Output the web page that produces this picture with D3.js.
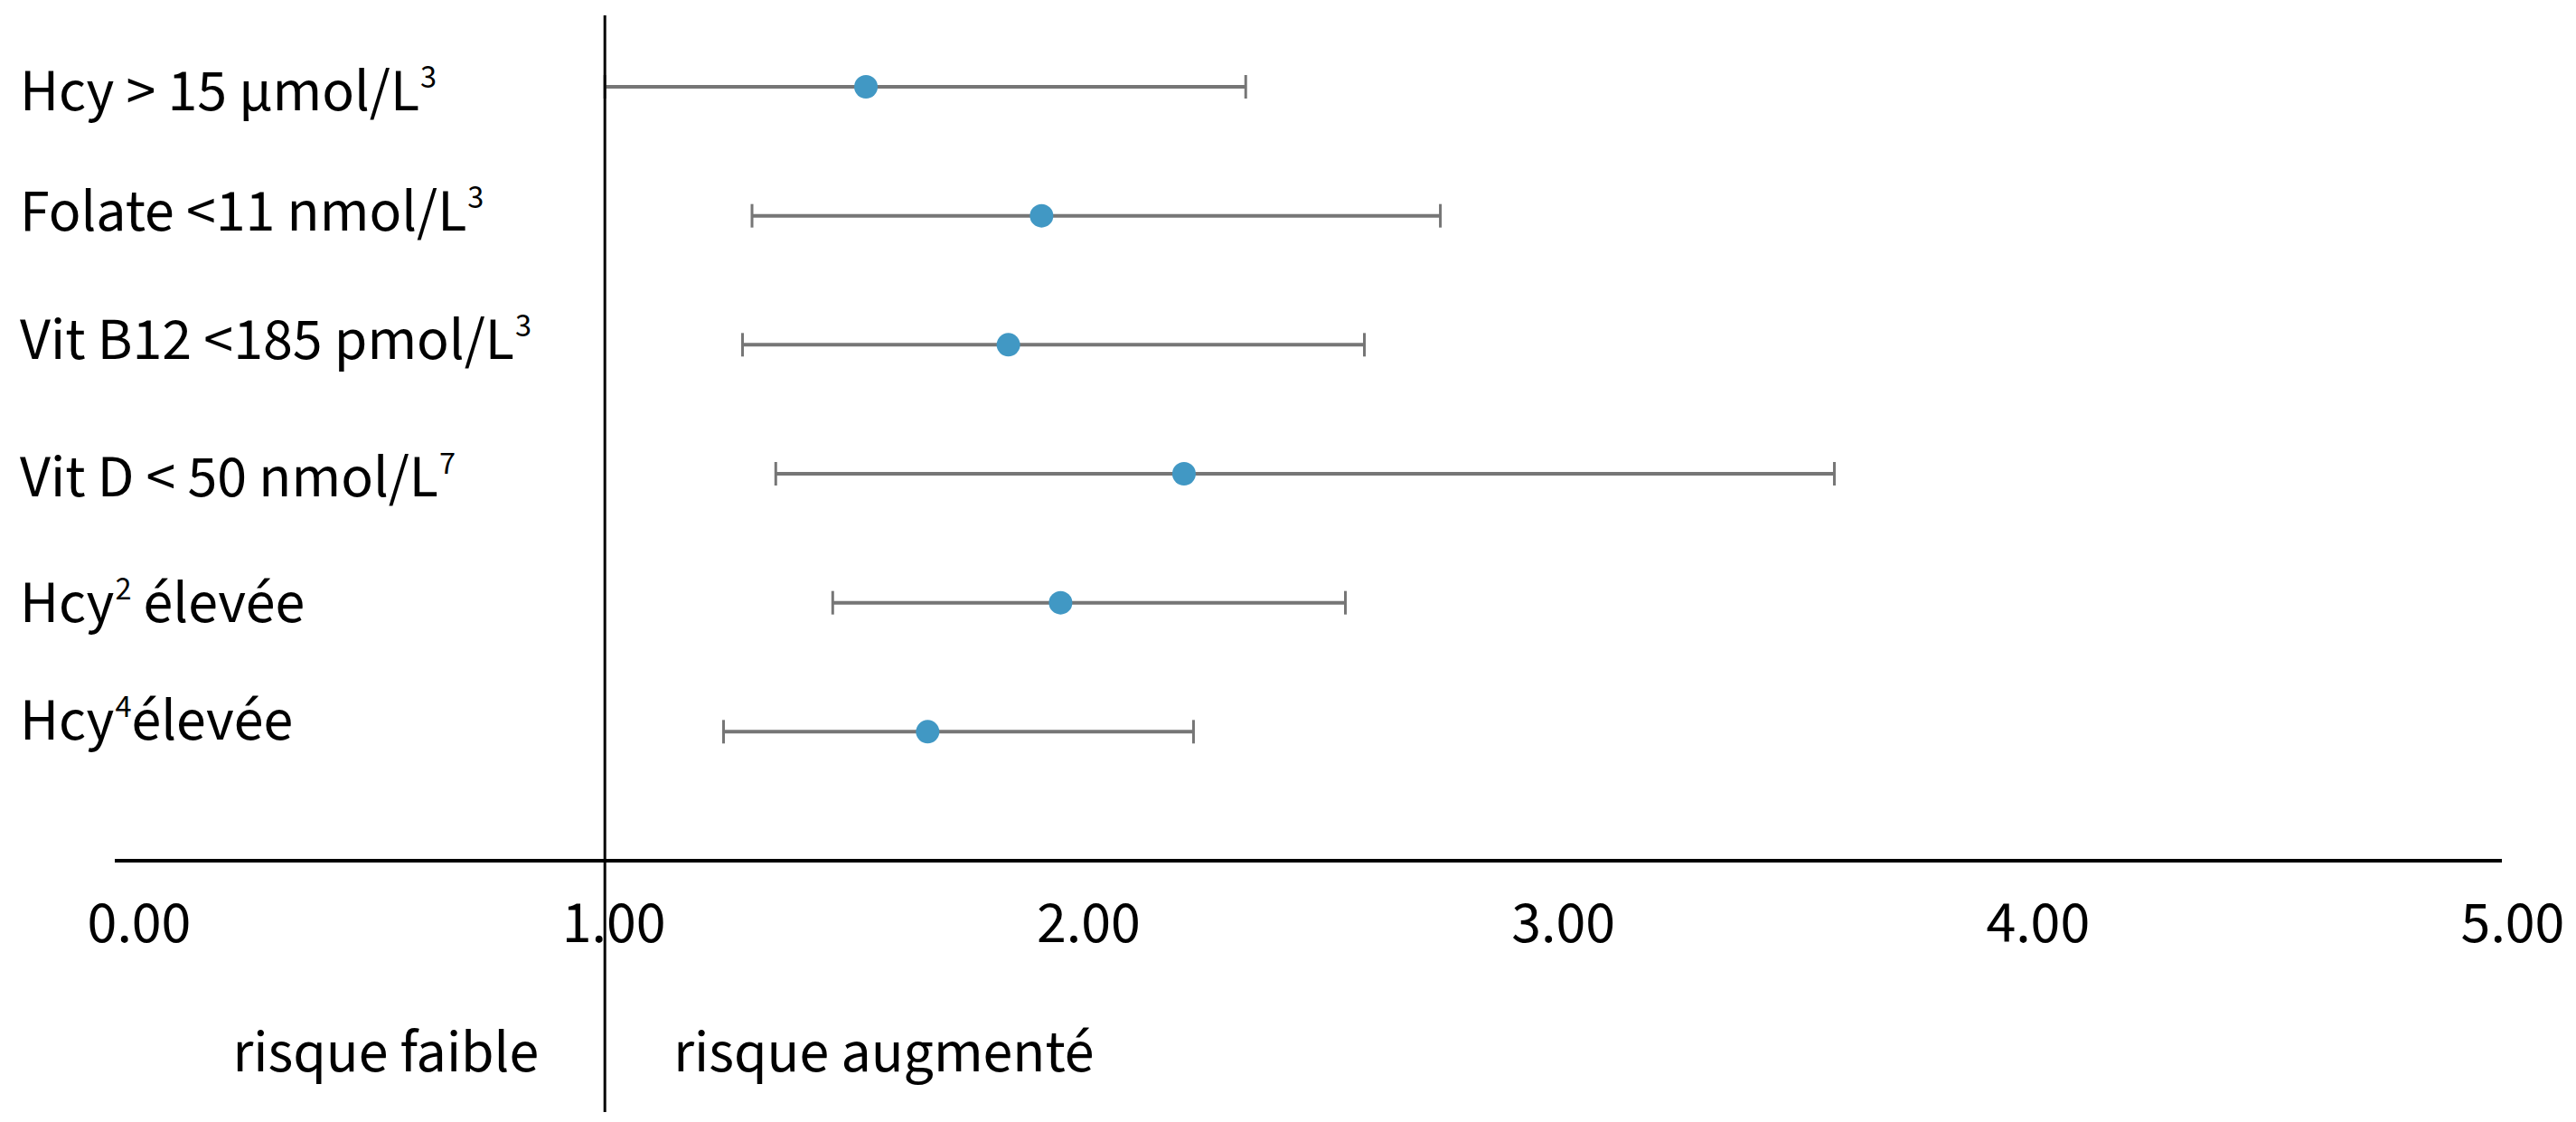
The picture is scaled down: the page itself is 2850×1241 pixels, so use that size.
<!DOCTYPE html>
<html>
<head>
<meta charset="utf-8">
<script src="https://cdn.jsdelivr.net/npm/d3@7"></script>
<style>
  html, body { margin: 0; padding: 0; background: #fff; }
  svg text { font-family: "Source Sans Pro", "Source Sans 3", Lato, sans-serif; fill: #000; }
</style>
</head>
<body>
<svg id="chart"></svg>
<script>
// Forest plot: odds ratios with confidence intervals
const labels = ["Hcy > 15 µmol/L", "Folate <11 nmol/L", "Vit B12 <185 pmol/L", "Vit D < 50 nmol/L", "Hcy", "Hcy"];
const supers = ["3", "3", "3", "7", "2", "4"];
const suffixes = ["", "", "", "", " élevée", "élevée"];
const oddsRatio = [1.55, 1.92, 1.85, 2.22, 1.96, 1.68];
const ciLow = [1.00, 1.31, 1.29, 1.36, 1.48, 1.25];
const ciHigh = [2.35, 2.76, 2.60, 3.59, 2.56, 2.24];
const xTicks = [0, 1, 2, 3, 4, 5];
const refValue = 1;
const sideLabels = ["risque faible", "risque augmenté"];

const width = 2850, height = 1241;
const fontSize = 66;
// the row labels are not exactly aligned with their whiskers in the original
const labelShift = [26, 16, 16, 25, 21, 9];

const svg = d3.select("#chart")
    .attr("width", width)
    .attr("height", height);

const x = d3.scaleLinear().domain([0, 5]).range([144, 2770]);
// rows 0..5, axis sits one step below the last row
const y = d3.scaleLinear().domain([0, 6]).range([96, 952]);

// horizontal axis line
svg.append("line")
    .attr("x1", x.range()[0] - 17)
    .attr("x2", x(5) - 2)
    .attr("y1", y(6))
    .attr("y2", y(6))
    .attr("stroke", "#000")
    .attr("stroke-width", 4);

// tick labels
svg.append("g").selectAll("text")
    .data(xTicks)
    .join("text")
    .attr("x", d => x(d) + 10)
    .attr("y", y(6) + 90)
    .attr("text-anchor", "middle")
    .attr("font-size", fontSize)
    .text(d => d3.format(".2f")(d));

// side labels
svg.append("text")
    .attr("x", x(refValue) - 73)
    .attr("y", 1185)
    .attr("text-anchor", "end")
    .attr("font-size", fontSize)
    .text(sideLabels[0]);

svg.append("text")
    .attr("x", x(refValue) + 76)
    .attr("y", 1185)
    .attr("text-anchor", "start")
    .attr("font-size", fontSize)
    .text(sideLabels[1]);

const rows = labels.map((d, i) => ({
    label: d, sup: supers[i], suffix: suffixes[i],
    or: oddsRatio[i], lo: ciLow[i], hi: ciHigh[i], i
}));

// category labels
const lab = svg.append("g").selectAll("text")
    .data(rows)
    .join("text")
    .attr("x", 22)
    .attr("y", d => y(d.i) + labelShift[d.i])
    .attr("font-size", fontSize);

lab.append("tspan").text(d => d.label);
lab.append("tspan")
    .attr("font-size", fontSize * 0.55)
    .attr("dy", -fontSize * 0.38)
    .attr("dx", 1)
    .text(d => d.sup);
lab.filter(d => d.suffix !== "").append("tspan")
    .attr("dy", fontSize * 0.38)
    .text(d => d.suffix);

// error bars
const bars = svg.append("g");
const capH = 13;

bars.selectAll(".whisker")
    .data(rows)
    .join("line")
    .attr("class", "whisker")
    .attr("x1", d => x(d.lo))
    .attr("x2", d => x(d.hi))
    .attr("y1", d => y(d.i))
    .attr("y2", d => y(d.i))
    .attr("stroke", "#767676")
    .attr("stroke-width", 4);

bars.selectAll(".cap")
    .data(rows.flatMap(d => [{ v: d.lo, i: d.i }, { v: d.hi, i: d.i }]))
    .join("line")
    .attr("class", "cap")
    .attr("x1", d => x(d.v))
    .attr("x2", d => x(d.v))
    .attr("y1", d => y(d.i) - capH)
    .attr("y2", d => y(d.i) + capH)
    .attr("stroke", "#767676")
    .attr("stroke-width", 3);

bars.selectAll(".dot")
    .data(rows)
    .join("circle")
    .attr("class", "dot")
    .attr("cx", d => x(d.or))
    .attr("cy", d => y(d.i))
    .attr("r", 13)
    .attr("fill", "#4198C4");

// vertical reference line at OR = 1, drawn over the whisker caps
svg.append("line")
    .attr("x1", x(refValue))
    .attr("x2", x(refValue))
    .attr("y1", 17)
    .attr("y2", 1230)
    .attr("stroke", "#000")
    .attr("stroke-width", 3);
</script>
</body>
</html>
